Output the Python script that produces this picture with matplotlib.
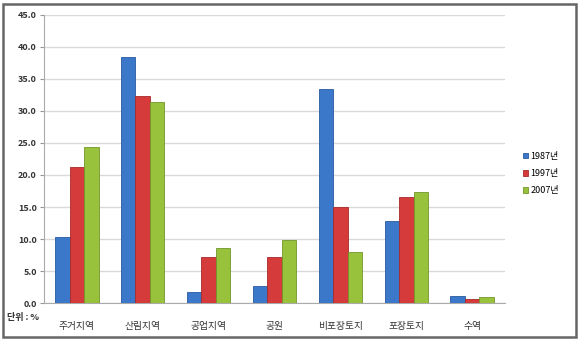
import numpy as np
import matplotlib.pyplot as plt
from matplotlib.patches import Rectangle

plt.rcParams['font.family'] = ['Noto Sans CJK KR', 'DejaVu Sans']

categories = ['주거지역', '산림지역', '공업지역', '공원', '비포장토지', '포장토지', '수역']
years = ['1987년', '1997년', '2007년']
v1987 = [10.3, 38.5, 1.8, 2.6, 33.5, 12.8, 1.1]
v1997 = [21.2, 32.4, 7.2, 7.2, 15.0, 16.5, 0.7]
v2007 = [24.3, 31.4, 8.6, 9.8, 7.9, 17.4, 0.9]
yticks = np.arange(0, 45.1, 5)

colors = ['#3b78c9', '#d63b3b', '#98c13c']
edges = ['#2a5a9e', '#a82a2a', '#72962a']

fig = plt.figure(figsize=(5.84, 3.46), dpi=100)
ax = fig.add_axes([0.075, 0.124, 0.79, 0.833])

x = np.arange(len(categories))
w = 0.22
for i, (vals, c, e, lab) in enumerate(zip([v1987, v1997, v2007], colors, edges, years)):
    ax.bar(x + (i - 1) * w, vals, w, color=c, edgecolor=e, linewidth=0.6, label=lab, zorder=3)

ax.set_xlim(-0.5, len(categories) - 0.5)
ax.set_ylim(0, 45)
ax.set_yticks(yticks)
ax.set_yticklabels(['%.1f' % t for t in yticks], fontsize=6.5, fontweight='bold', color='#333333')
ax.set_xticks(x)
ax.set_xticklabels(categories, fontsize=7, color='#333333')
ax.tick_params(axis='x', length=0, pad=13)
ax.tick_params(axis='y', length=3, color='#999999', pad=2)
ax.grid(axis='y', color='#d9d9d9', linewidth=1, zorder=0)
for s in ['top', 'right']:
    ax.spines[s].set_visible(False)
for s in ['left', 'bottom']:
    ax.spines[s].set_color('#aaaaaa')

ax.text(-0.08, -0.035, '단위 : %', transform=ax.transAxes, fontsize=6.5, fontweight='bold',
        color='#333333', ha='left', va='top')

ax.legend(loc='center left', bbox_to_anchor=(1.02, 0.45), frameon=False, fontsize=6.5,
          handlelength=0.6, handleheight=0.6, handletextpad=0.3, labelspacing=0.9)

fig.patches.append(Rectangle((0.005, 0.025), 0.982, 0.962, transform=fig.transFigure,
                             fill=False, edgecolor='#666666', linewidth=1.8))

fig.savefig('out.png', dpi=100)
